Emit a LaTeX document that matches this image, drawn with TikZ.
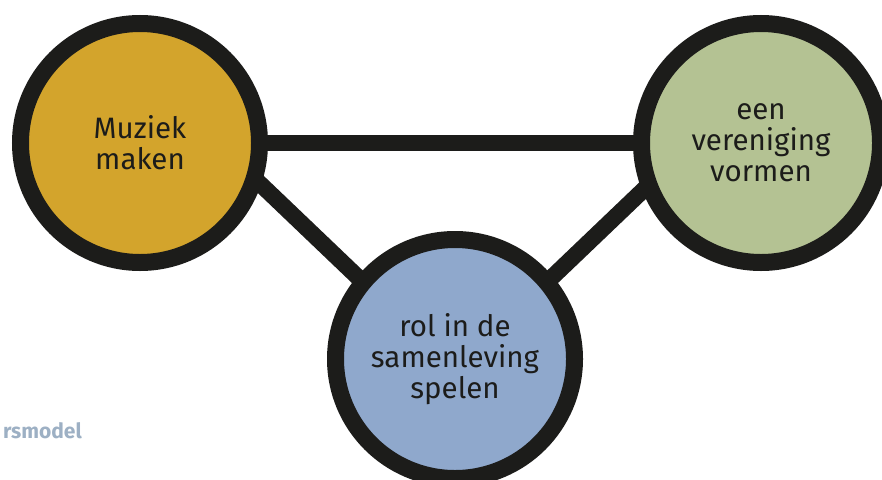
\documentclass[tikz,border=0pt]{standalone}
\usepackage{fontspec}
\setmainfont{Fira Sans}
\usetikzlibrary{backgrounds}
\definecolor{ochre}{HTML}{D3A42C}
\definecolor{sage}{HTML}{B4C293}
\definecolor{steel}{HTML}{8FA8CC}
\definecolor{ink}{HTML}{1C1C1A}
\definecolor{caption}{HTML}{9DB0C4}
\begin{document}
\begin{tikzpicture}[x=1pt,y=-1pt,
  ring/.style={circle,draw=ink,line width=17pt,minimum size=239pt,inner sep=0pt,
    font=\fontsize{29.5}{31}\selectfont,text=ink,align=center},
  link/.style={draw=ink,line width=16.5pt}]
\useasboundingbox (0,0) rectangle (882,479);
\clip (0,0) rectangle (882,479);
\node[ring,fill=ochre] (left) at (140,143) {Muziek\\maken};
\node[ring,fill=sage] (right) at (761,143) {een\\vereniging\\vormen};
\node[ring,fill=steel] (bottom) at (455,359) {rol in de\\samenleving\\spelen};
\node[anchor=base east,text=caption,font=\fontsize{21}{23}\selectfont\bfseries,inner sep=0pt] (cap) at (82,438) {rsmodel};
\begin{scope}[on background layer]
\fill[white] (0,0) rectangle (882,479);
\draw[link] (left.center) -- (right.center);
\draw[link,shorten <=-10pt] (left.-19) -- ([yshift=-11pt]bottom.center);
\draw[link,shorten <=-10pt] (right.202) -- ([yshift=-11pt]bottom.center);
\end{scope}
\end{tikzpicture}
\end{document}
